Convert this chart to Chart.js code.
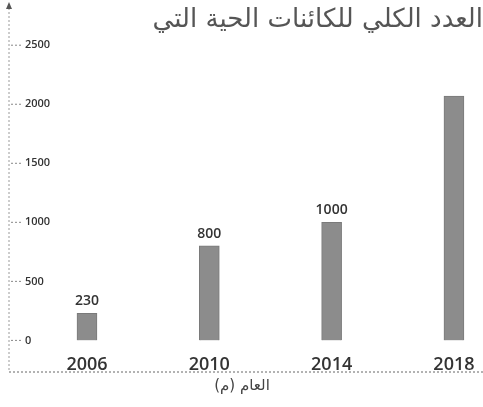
<!DOCTYPE html>
<html>
<head>
<meta charset="utf-8">
<script src="https://cdn.jsdelivr.net/npm/chart.js@4"></script>
<style>
  html, body { margin: 0; background: #fff; }
  #wrap { width: 483px; height: 407px; }
</style>
</head>
<body>
<div id="wrap"><canvas id="organismsChart"></canvas></div>
<script>
const years = [2006, 2010, 2014, 2018];
const counts = [230, 800, 1000, 2070];
const valueLabels = ['230', '800', '1000', ''];
const yTicks = [0, 500, 1000, 1500, 2000, 2500];
const titleText = 'العدد الكلي للكائنات الحية التي';
const xTitle = 'العام (م)';

// axis lines, arrow and value labels, drawn like the scanned page
const decorations = {
    id: 'decorations',
    afterDraw(chart) {
        const ctx = chart.ctx;
        const y = chart.scales.y;
        const area = chart.chartArea;
        ctx.save();
        ctx.strokeStyle = '#9a9a9a';
        ctx.lineWidth = 1;
        ctx.setLineDash([2, 2]);
        // y axis
        ctx.beginPath();
        ctx.moveTo(area.left, 8);
        ctx.lineTo(area.left, 372);
        ctx.stroke();
        // x axis under the year labels
        ctx.strokeStyle = '#666';
        ctx.beginPath();
        ctx.moveTo(area.left, 372);
        ctx.lineTo(area.right, 372);
        ctx.stroke();
        // small dashes before y tick labels
        ctx.strokeStyle = '#888';
        yTicks.forEach(v => {
            const py = y.getPixelForValue(v);
            ctx.beginPath();
            ctx.moveTo(area.left + 2, py);
            ctx.lineTo(area.left + 14, py);
            ctx.stroke();
        });
        ctx.setLineDash([]);
        // arrow head
        ctx.fillStyle = '#555';
        ctx.beginPath();
        ctx.moveTo(area.left, 2);
        ctx.lineTo(area.left - 3, 9);
        ctx.lineTo(area.left + 3, 9);
        ctx.closePath();
        ctx.fill();
        // value labels
        ctx.fillStyle = '#333';
        ctx.font = '600 14px "Open Sans", sans-serif';
        ctx.textAlign = 'center';
        ctx.textBaseline = 'bottom';
        chart.getDatasetMeta(0).data.forEach((bar, i) => {
            if (valueLabels[i]) ctx.fillText(valueLabels[i], bar.x, bar.y - 5);
        });
        // x axis title (right-to-left run)
        ctx.font = '15px "DejaVu Sans", sans-serif';
        ctx.fillStyle = '#444';
        ctx.textBaseline = 'middle';
        ctx.direction = 'rtl';
        ctx.fillText('\u202B' + xTitle + '\u202C', 242, 386);
        ctx.restore();
    }
};

new Chart(document.getElementById('organismsChart'), {
    type: 'bar',
    data: {
        datasets: [{
            data: years.map((yr, i) => ({ x: yr, y: counts[i] })),
            backgroundColor: '#8c8c8c',
            borderColor: '#7a7a7a',
            borderWidth: 1,
            barThickness: 20
        }]
    },
    options: {
        responsive: true,
        maintainAspectRatio: false,
        animation: false,
        layout: { padding: { left: 9, right: 0, top: 0, bottom: 25 } },
        plugins: {
            legend: { display: false },
            tooltip: { enabled: false },
            title: {
                display: true,
                text: titleText,
                align: 'end',
                color: '#555',
                font: { family: '"DejaVu Sans", sans-serif', size: 26, weight: 'normal' },
                padding: { top: 5, bottom: 9 }
            }
        },
        scales: {
            x: {
                type: 'linear',
                offset: false,
                min: 2003.45,
                max: 2018.95,
                afterBuildTicks: axis => { axis.ticks = years.map(v => ({ value: v })); },
                grid: { display: false },
                border: { display: false },
                ticks: {
                    color: '#333',
                    padding: 6,
                    font: { family: '"Open Sans", sans-serif', size: 18, weight: '600' },
                    callback: v => String(v)
                }
            },
            y: {
                min: 0,
                max: 2500,
                afterBuildTicks: axis => { axis.ticks = yTicks.map(v => ({ value: v })); },
                afterFit: axis => { axis.width = 0; },
                grid: { display: false, drawTicks: false },
                border: { display: false },
                ticks: {
                    mirror: true,
                    padding: 16,
                    color: '#333',
                    font: { family: '"Open Sans", sans-serif', size: 11, weight: '600' },
                    callback: v => String(v)
                }
            }
        }
    },
    plugins: [decorations]
});
</script>
</body>
</html>
